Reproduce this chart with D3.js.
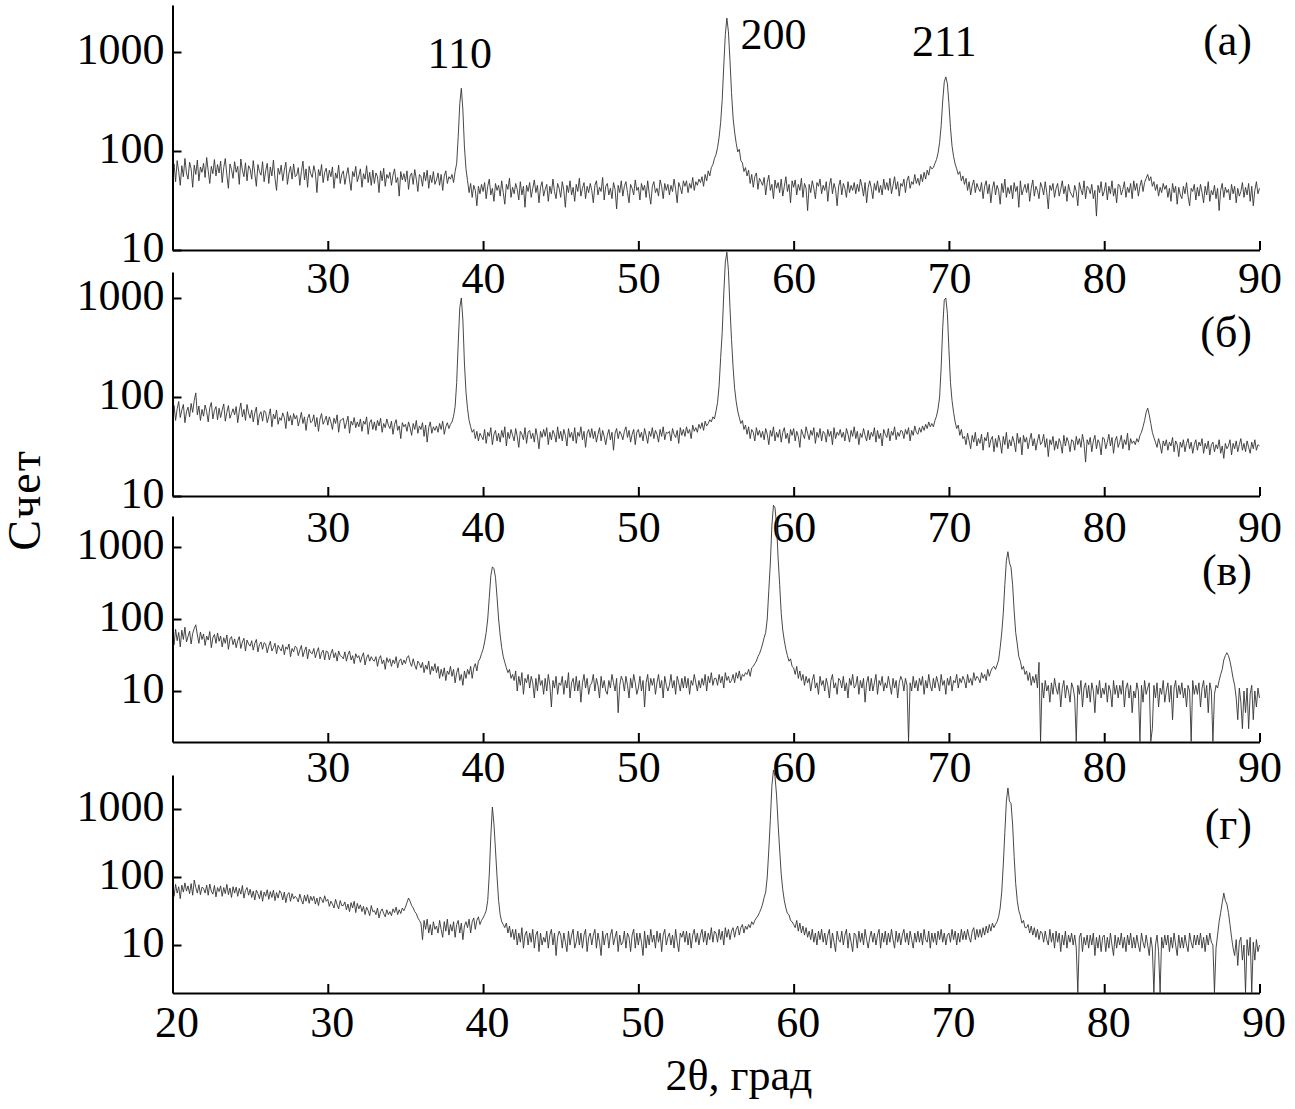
<!DOCTYPE html>
<html lang="ru">
<head>
<meta charset="UTF-8">
<title>XRD</title>
<script src="https://d3js.org/d3.v7.min.js"></script>
<style>
  body { margin: 0; background: #fff; }
  text { font-family: "Liberation Serif", "Times New Roman", serif; fill: #000; }
</style>
</head>
<body>
<svg id="chart" width="1295" height="1109"></svg>
<script>
// counts, one row per degree of 2θ (x.0 ... x.9), from 20 to 90
const countsA = [
  [58,74,49,80,62,45,71,55,84,60],
  [52,77,66,43,72,58,81,50,69,61],
  [75,54,86,63,47,70,59,82,56,73],
  [60,79,48,68,84,57,42,74,65,53],
  [78,61,70,46,83,64,55,76,50,71],
  [66,52,80,59,44,73,62,57,78,49],
  [63,75,47,69,56,81,53,40,67,58],
  [72,50,64,77,46,60,70,52,74,55],
  [57,68,45,62,79,51,66,43,70,59],
  [54,71,60,38,65,56,73,48,61,67],
  [50,64,55,69,42,60,53,72,47,58],
  [63,46,57,68,51,40,62,55,70,49],
  [56,66,43,59,52,71,48,61,45,64],
  [47,60,55,38,63,50,67,44,58,53],
  [61,45,57,66,48,54,35,62,51,59],
  [49,63,41,56,60,46,65,52,39,58],
  [55,44,61,50,64,42,57,48,62,46],
  [51,60,45,58,40,56,63,47,55,52],
  [58,48,62,75,140,300,430,260,110,66],
  [50,38,47,34,45,40,28,44,37,46],
  [39,48,33,44,52,36,42,31,47,40],
  [45,35,50,38,29,46,41,53,34,43],
  [37,47,41,32,49,36,44,27,45,39],
  [48,34,42,51,38,45,30,43,49,35],
  [41,46,31,44,37,52,39,33,47,42],
  [34,49,40,27,45,38,50,36,43,31],
  [46,39,53,35,42,48,33,44,38,47],
  [40,30,45,50,36,43,39,54,32,44],
  [47,36,42,33,48,41,26,45,38,50],
  [35,44,49,38,30,46,42,36,51,40],
  [43,32,47,40,45,34,50,37,29,44],
  [49,38,42,35,51,44,33,47,40,46],
  [36,45,39,52,41,30,48,43,37,50],
  [44,50,38,47,42,54,40,49,45,52],
  [48,55,44,58,50,63,56,68,73,84],
  [92,108,138,195,330,720,1500,2200,1600,820],
  [390,215,155,120,98,104,80,76,62,68],
  [56,64,47,58,43,55,60,41,53,49],
  [45,54,36,48,57,40,46,33,51,42],
  [48,38,52,35,44,55,39,46,30,50],
  [43,51,36,46,40,53,34,47,42,25],
  [46,38,50,42,33,48,44,52,37,45],
  [40,49,31,45,53,37,47,41,28,44],
  [51,36,47,42,34,49,38,45,40,48],
  [37,46,39,52,44,35,48,30,43,50],
  [42,33,47,40,50,38,45,36,52,41],
  [48,40,53,37,45,55,41,49,35,47],
  [44,52,38,50,56,42,49,46,58,47],
  [53,45,58,49,61,52,64,57,70,66],
  [68,75,82,95,122,180,320,500,560,480],
  [300,172,112,88,74,66,58,62,50,56],
  [46,53,40,49,36,45,51,38,47,42],
  [39,48,33,44,50,37,46,30,42,49],
  [36,45,40,29,47,38,52,34,43,37],
  [45,33,48,39,44,27,50,36,41,46],
  [38,47,31,42,51,35,44,40,33,48],
  [43,36,49,38,26,45,40,47,34,42],
  [47,35,41,50,37,44,31,46,39,36],
  [34,45,39,28,48,41,36,50,33,44],
  [42,37,46,33,40,22,45,38,49,35],
  [39,48,32,44,37,50,35,42,30,46],
  [45,36,41,49,34,43,38,47,33,50],
  [40,47,35,44,51,39,48,53,58,50],
  [55,44,49,40,46,35,43,38,47,41],
  [45,34,42,31,47,38,44,29,43,36],
  [33,44,37,48,35,28,42,39,46,32],
  [43,35,46,38,30,44,36,49,31,40],
  [36,45,33,42,25,40,47,34,43,38],
  [41,32,46,37,44,30,42,35,39,48],
  [34,43,36,47,31,44,28,40,49,37],
  [42]
];

const countsB = [
  [68,82,58,76,90,62,74,84,55,71],
  [79,63,86,70,92,110,66,81,58,75],
  [64,83,71,56,78,88,60,73,80,59],
  [77,62,74,85,57,70,82,61,68,76],
  [66,80,55,72,87,63,75,58,84,69],
  [61,74,56,69,79,52,66,71,57,73],
  [70,55,64,76,50,67,60,74,53,62],
  [58,69,62,48,71,57,65,52,68,60],
  [65,51,59,70,54,63,46,61,67,55],
  [57,66,50,62,45,60,68,53,58,64],
  [52,63,56,47,61,54,66,44,58,59],
  [61,48,55,64,43,57,52,62,49,56],
  [50,60,45,57,53,63,42,55,59,47],
  [56,46,58,51,61,44,54,49,60,52],
  [48,57,42,53,59,46,51,38,55,50],
  [53,45,56,49,41,54,47,58,43,51],
  [47,55,40,52,35,49,56,43,50,46],
  [51,44,54,47,57,42,50,55,48,53],
  [56,64,80,140,350,800,1000,600,220,112],
  [76,58,50,44,47,38,45,36,43,40],
  [37,47,34,44,40,49,33,42,46,36],
  [43,35,46,39,50,32,44,38,47,41],
  [36,48,40,31,45,42,37,49,34,44],
  [46,38,43,35,48,40,30,45,39,47],
  [40,49,33,44,37,46,42,35,50,38],
  [45,36,47,41,32,48,39,44,36,49],
  [34,44,40,50,37,45,31,43,47,39],
  [48,38,45,35,42,49,36,46,40,33],
  [41,47,37,44,29,43,48,38,45,42],
  [37,45,50,39,46,35,42,47,33,44],
  [47,39,44,36,48,41,34,45,40,49],
  [38,46,42,35,47,40,50,37,44,43],
  [45,36,48,42,39,46,34,49,41,47],
  [40,50,43,47,38,52,45,49,44,53],
  [48,55,46,57,51,54,59,56,63,60],
  [72,88,130,250,450,1100,2300,2900,1900,800],
  [380,200,122,90,72,62,54,58,47,52],
  [42,50,38,47,44,36,49,41,46,39],
  [45,37,48,42,33,46,40,50,36,44],
  [39,47,35,44,49,38,43,34,47,41],
  [48,36,45,40,31,47,42,38,50,43],
  [37,46,41,49,34,44,39,48,36,45],
  [43,35,47,40,45,33,49,38,44,41],
  [47,39,44,36,48,42,35,46,40,50],
  [38,45,33,43,39,48,41,36,46,37],
  [44,40,49,35,46,38,43,32,47,42],
  [39,48,36,45,41,50,37,44,40,46],
  [45,38,47,42,49,36,46,41,51,44],
  [42,49,44,51,46,53,48,56,50,54],
  [50,58,64,76,100,200,500,950,1000,700],
  [300,140,92,70,56,48,52,41,47,38],
  [40,33,43,36,30,41,35,44,32,38],
  [34,42,29,39,36,44,31,37,40,28],
  [38,31,41,35,27,40,33,44,30,37],
  [32,40,35,28,43,34,39,26,41,35],
  [39,30,37,43,32,38,29,36,42,33],
  [35,42,31,38,25,37,33,40,29,36],
  [30,38,34,27,41,32,39,35,28,37],
  [36,29,40,33,38,31,42,34,22,37],
  [33,39,28,36,41,30,37,34,26,39],
  [38,30,35,42,32,39,27,36,40,31],
  [35,41,30,37,33,43,29,38,34,36],
  [33,38,35,41,44,50,58,70,77,66],
  [54,44,39,35,31,38,33,27,36,32],
  [37,29,35,32,39,28,36,33,25,35],
  [31,37,28,34,38,30,35,27,33,37],
  [29,35,32,38,27,34,30,36,26,33],
  [35,28,33,30,37,27,32,24,34,30],
  [32,37,26,34,30,36,28,33,38,29],
  [34,28,36,31,27,35,30,37,29,33],
  [32]
];

const countsC = [
  [60,44,72,50,65,41,70,52,77,48],
  [57,68,45,63,74,83,60,46,66,52],
  [62,43,58,51,67,40,55,61,46,64],
  [49,58,41,55,46,60,38,53,57,44],
  [53,40,50,57,39,48,54,36,51,45],
  [42,50,37,46,52,35,44,48,38,47],
  [45,34,42,49,36,40,46,33,43,39],
  [36,44,32,41,38,45,30,39,35,42],
  [40,31,37,43,30,36,41,28,38,34],
  [33,39,29,35,40,28,34,37,27,36],
  [35,27,33,38,29,34,26,36,31,30],
  [28,35,26,32,36,27,31,24,33,29],
  [31,25,30,34,23,29,32,26,30,27],
  [26,30,22,28,31,24,27,20,29,25],
  [28,22,27,24,30,21,26,28,23,27],
  [24,29,31,25,22,28,23,20,26,24],
  [21,25,18,23,20,26,17,22,19,24],
  [18,22,15,20,16,21,14,19,17,22],
  [16,20,13,18,21,14,17,12,19,15],
  [20,17,22,15,21,24,19,26,28,33],
  [38,48,65,100,200,400,530,500,380,200],
  [100,60,40,30,25,21,18,20,15,17],
  [14,19,10,16,12,18,9,15,13,17],
  [11,16,13,8,15,10,17,12,14,9],
  [15,10,17,12,6,14,11,16,9,13],
  [12,16,9,14,11,18,8,13,15,10],
  [16,10,14,7,13,17,11,15,9,12],
  [13,17,10,15,12,8,16,11,14,10],
  [9,14,11,17,13,10,15,5,12,16],
  [14,10,16,12,8,15,11,17,13,9],
  [11,16,10,14,6,13,17,10,15,12],
  [15,9,13,17,11,14,8,16,12,10],
  [12,17,11,14,9,16,13,10,15,11],
  [16,11,15,9,14,12,17,13,10,14],
  [11,15,12,17,10,16,13,18,12,15],
  [15,12,17,13,16,11,18,14,16,13],
  [14,17,13,18,15,19,14,17,16,18],
  [17,20,16,21,22,24,26,30,33,38],
  [45,55,65,100,250,600,2000,3800,3500,2000],
  [700,300,120,70,50,38,31,26,28,22],
  [21,17,22,15,19,14,17,12,16,13],
  [15,10,14,17,11,13,9,16,12,14],
  [10,15,12,8,14,17,11,13,9,15],
  [14,11,16,10,13,8,15,12,17,11],
  [12,16,9,14,11,15,7,13,16,10],
  [15,10,13,17,9,14,12,16,10,13],
  [11,16,12,9,15,11,14,8,13,16],
  [14,10,15,12,2,13,10,16,11,14],
  [10,15,12,16,9,14,11,17,12,10],
  [15,11,16,13,10,17,12,14,9,15],
  [12,16,10,14,13,17,11,15,13,16],
  [14,11,17,13,15,12,18,14,16,15],
  [13,18,15,17,14,20,16,19,21,22],
  [20,23,27,40,64,120,300,650,860,600],
  [520,300,130,65,45,30,26,20,22,17],
  [19,14,18,12,16,13,17,11,25,2],
  [13,8,14,10,12,7,13,9,15,11],
  [9,13,6,11,14,8,12,10,7,13],
  [11,8,2,12,9,14,6,11,13,8],
  [12,7,13,10,5,12,9,14,8,11],
  [9,13,7,12,10,6,14,9,12,8],
  [12,9,14,6,11,13,8,12,5,10],
  [8,13,10,2,12,7,14,9,11,13],
  [2,3,12,8,13,6,11,9,14,7],
  [10,13,7,12,4,11,14,8,12,9],
  [13,8,11,6,12,10,2,14,9,12],
  [9,13,6,11,14,8,12,5,13,10],
  [2,9,12,11,14,17,20,27,31,34],
  [31,26,20,15,12,8,4,11,7,3],
  [10,5,11,3,9,12,4,10,6,11],
  [8]
];

const countsD = [
  [64,52,78,58,72,48,76,60,82,62],
  [74,57,80,54,90,70,58,77,55,71],
  [68,58,76,54,79,62,56,75,51,70],
  [61,74,52,70,57,78,55,69,50,72],
  [58,71,52,68,56,75,49,63,70,54],
  [66,50,62,46,64,57,48,63,44,60],
  [52,65,47,61,50,64,45,59,49,63],
  [58,46,60,42,55,59,44,57,48,52],
  [49,43,56,46,40,54,44,55,41,52],
  [45,52,40,49,38,51,47,42,53,44],
  [47,37,44,40,35,47,39,34,45,38],
  [38,43,33,40,31,42,35,44,30,41],
  [34,39,31,37,28,36,32,27,38,31],
  [32,28,35,25,31,34,29,26,33,28],
  [31,27,34,30,36,28,33,29,35,32],
  [36,42,49,44,38,35,31,29,25,23],
  [21,12,23,17,24,15,20,14,22,17],
  [19,15,23,17,13,22,16,24,14,20],
  [16,22,13,20,23,15,21,12,19,22],
  [18,24,15,22,25,17,23,26,20,23],
  [25,28,32,45,110,400,1070,600,250,100],
  [45,28,22,20,18,21,15,19,13,17],
  [12,17,10,15,11,18,9,14,16,10],
  [15,11,17,9,14,16,8,15,10,13],
  [11,16,9,14,17,10,15,7,13,16],
  [14,9,15,11,8,16,10,14,17,9],
  [11,16,10,15,9,14,17,8,13,15],
  [10,14,17,9,15,11,7,16,10,14],
  [15,9,14,17,10,13,16,8,14,10],
  [11,16,9,15,13,8,14,17,9,15],
  [10,15,11,7,16,9,14,10,17,11],
  [14,9,16,11,15,8,14,17,10,13],
  [15,10,14,9,17,11,8,15,13,16],
  [11,16,10,15,9,14,17,11,15,10],
  [14,17,11,16,10,15,12,18,11,16],
  [15,11,17,12,16,10,18,13,17,12],
  [16,18,13,17,19,14,18,20,15,19],
  [17,20,18,22,20,23,25,27,30,34],
  [40,50,60,100,250,700,2200,3750,3000,1600],
  [600,250,110,65,45,35,29,28,23,22],
  [20,18,23,16,21,15,19,14,18,13],
  [16,12,17,11,15,10,16,12,17,11],
  [15,10,14,17,9,15,11,8,16,12],
  [11,16,10,14,17,9,15,11,8,15],
  [14,9,16,11,15,10,17,12,9,13],
  [16,11,15,10,14,17,9,15,11,16],
  [10,15,11,17,12,9,16,11,15,10],
  [14,17,11,15,10,16,12,9,15,11],
  [16,11,15,10,17,12,11,16,9,15],
  [11,15,10,16,12,17,11,15,10,14],
  [15,11,17,12,16,10,15,11,17,12],
  [16,12,17,13,11,16,18,12,17,13],
  [17,13,18,14,19,15,20,16,21,18],
  [20,22,26,35,60,150,450,1300,2040,1300],
  [1200,600,200,80,45,32,27,21,23,18],
  [18,20,15,19,14,18,13,17,12,16],
  [15,11,16,12,10,17,11,15,9,16],
  [11,15,8,14,10,16,9,14,11,15],
  [10,14,9,2,13,15,8,13,10,14],
  [9,14,10,15,7,13,9,14,8,13],
  [14,8,13,9,15,10,7,14,9,13],
  [10,15,9,13,8,14,10,15,9,13],
  [9,14,10,8,15,11,9,14,10,7],
  [13,9,2,10,14,8,2,13,9,14],
  [10,14,8,13,9,15,10,7,14,9],
  [13,9,14,10,8,15,11,9,14,10],
  [14,10,15,9,13,8,14,10,15,11],
  [10,2,9,14,22,30,42,58,45,40],
  [30,20,13,9,7,12,5,11,13,6],
  [10,2,12,7,13,2,11,6,12,8],
  [10]
];

const xTicks = [20, 30, 40, 50, 60, 70, 80, 90];
const yTicks = [10, 100, 1000];
const panelNames = ["(а)", "(б)", "(в)", "(г)"];
const peakNames = ["110", "200", "211"];
const peakLabelAt = [38.5, 58.7, 69.7];   // 2θ where the label is centred
const startAngle = 20;
const step = 0.1;

// layout of the four stacked panels (pixels) and their log ranges
const panels = [
  { counts: countsA, top: 5,   bottom: 250, yMin: 10,   yMax: 2984, tickPad: 12, nameY: 55,  showFirst: false },
  { counts: countsB, top: 272, bottom: 496, yMin: 10,   yMax: 1830, tickPad: 15, nameY: 347, showFirst: false },
  { counts: countsC, top: 516, bottom: 742, yMin: 1.96, yMax: 2694, tickPad: 9,  nameY: 585, showFirst: false },
  { counts: countsD, top: 775, bottom: 993, yMin: 1.97, yMax: 3162, tickPad: 13, nameY: 839, showFirst: true }
];

const svg = d3.select("#chart");
svg.append("rect").attr("width", 1295).attr("height", 1109).attr("fill", "#fff");

const x = d3.scaleLinear().domain([20, 90]).range([172.5, 1259.5]);
const fontSize = 44;

panels.forEach((p, i) => {
  const y = d3.scaleLog().domain([p.yMin, p.yMax]).range([p.bottom, p.top]);

  const points = p.counts.flatMap((row, r) =>
    row.map((v, j) => [startAngle + r + j * step, v]));

  const line = d3.line().x(d => x(d[0])).y(d => y(d[1]));

  const g = svg.append("g");

  g.append("path")
    .datum(points)
    .attr("d", line)
    .attr("fill", "none")
    .attr("stroke", "#333")
    .attr("stroke-width", 0.9)
    .attr("stroke-linejoin", "round");

  // bottom axis, ticks pointing up
  const xAxis = d3.axisBottom(x)
    .tickValues(xTicks)
    .tickSize(-9)
    .tickSizeOuter(0)
    .tickPadding(p.tickPad)
    .tickFormat(d => (d === 20 && !p.showFirst) ? "" : d);

  const gx = g.append("g")
    .attr("transform", `translate(0,${p.bottom})`)
    .call(xAxis);
  gx.select(".domain").attr("stroke", "#000").attr("stroke-width", 2);
  gx.selectAll(".tick line").attr("stroke", "#000").attr("stroke-width", 2);
  gx.selectAll(".tick text")
    .attr("font-size", fontSize)
    .attr("dx", p.showFirst ? 4 : 0);

  // left axis, ticks pointing right
  const yAxis = d3.axisLeft(y)
    .tickValues(yTicks)
    .tickSize(-9)
    .tickSizeOuter(0)
    .tickPadding(8)
    .tickFormat(d3.format("d"));

  const gy = g.append("g")
    .attr("transform", `translate(${x(20)},0)`)
    .call(yAxis);
  gy.select(".domain").attr("stroke", "#000").attr("stroke-width", 2);
  gy.selectAll(".tick line").attr("stroke", "#000").attr("stroke-width", 2);
  gy.selectAll(".tick text")
    .attr("font-size", fontSize)
    .attr("dy", "0.27em");

  g.append("text")
    .attr("x", 1252)
    .attr("y", p.nameY)
    .attr("text-anchor", "end")
    .attr("font-size", fontSize)
    .text(panelNames[i]);
});

// Miller indices over the first pattern
const peakBaseline = [68, 49, 56];
svg.selectAll(".peak")
  .data(peakNames)
  .enter().append("text")
  .attr("class", "peak")
  .attr("x", (d, i) => x(peakLabelAt[i]))
  .attr("y", (d, i) => peakBaseline[i])
  .attr("text-anchor", "middle")
  .attr("font-size", fontSize)
  .text(d => d);

svg.append("text")
  .attr("x", 739)
  .attr("y", 1090)
  .attr("text-anchor", "middle")
  .attr("font-size", fontSize)
  .text("2θ, град");

svg.append("text")
  .attr("transform", "translate(40,500) rotate(-90)")
  .attr("text-anchor", "middle")
  .attr("font-size", 46)
  .attr("letter-spacing", 2)
  .text("Счет");
</script>
</body>
</html>
